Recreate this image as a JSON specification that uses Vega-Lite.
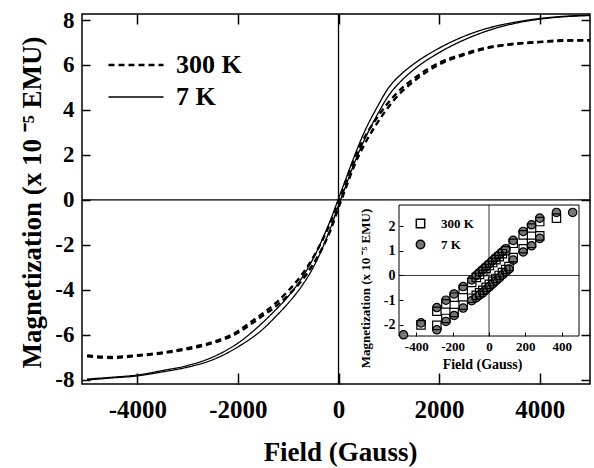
{
  "$schema": "https://vega.github.io/schema/vega-lite/v6.json",
  "width": 508,
  "height": 370,
  "autosize": {"type": "none"},
  "padding": {"left": 82, "top": 14, "right": 4, "bottom": 84},
  "background": "white",
  "config": {
    "view": {"stroke": "black", "strokeWidth": 1.5},
    "font": "Liberation Serif",
    "axis": {
      "labelFont": "Liberation Serif",
      "titleFont": "Liberation Serif",
      "labelFontWeight": "bold",
      "titleFontWeight": "bold",
      "labelColor": "black",
      "titleColor": "black",
      "tickColor": "black",
      "domainColor": "black",
      "grid": false,
      "labelFlush": false,
      "labelOverlap": false,
      "labelExpr": "'' + datum.value"
    }
  },
  "datasets": {
    "main": [
      {"T": "7 K", "b": "down", "H": -5000, "M": -7.98},
      {"T": "7 K", "b": "down", "H": -4500, "M": -7.9},
      {"T": "7 K", "b": "down", "H": -4000, "M": -7.8},
      {"T": "7 K", "b": "down", "H": -3500, "M": -7.6},
      {"T": "7 K", "b": "down", "H": -3000, "M": -7.38},
      {"T": "7 K", "b": "down", "H": -2500, "M": -7.0},
      {"T": "7 K", "b": "down", "H": -2000, "M": -6.38},
      {"T": "7 K", "b": "down", "H": -1500, "M": -5.45},
      {"T": "7 K", "b": "down", "H": -1250, "M": -4.9},
      {"T": "7 K", "b": "down", "H": -1000, "M": -4.3},
      {"T": "7 K", "b": "down", "H": -750, "M": -3.55},
      {"T": "7 K", "b": "down", "H": -500, "M": -2.6},
      {"T": "7 K", "b": "down", "H": -300, "M": -1.65},
      {"T": "7 K", "b": "down", "H": -150, "M": -0.85},
      {"T": "7 K", "b": "down", "H": 0, "M": 0.05},
      {"T": "7 K", "b": "down", "H": 150, "M": 0.95},
      {"T": "7 K", "b": "down", "H": 300, "M": 1.85},
      {"T": "7 K", "b": "down", "H": 500, "M": 2.95},
      {"T": "7 K", "b": "down", "H": 750, "M": 4.05},
      {"T": "7 K", "b": "down", "H": 1000, "M": 5.0},
      {"T": "7 K", "b": "down", "H": 1250, "M": 5.6},
      {"T": "7 K", "b": "down", "H": 1500, "M": 6.05},
      {"T": "7 K", "b": "down", "H": 2000, "M": 6.75},
      {"T": "7 K", "b": "down", "H": 2500, "M": 7.28},
      {"T": "7 K", "b": "down", "H": 3000, "M": 7.66},
      {"T": "7 K", "b": "down", "H": 3500, "M": 7.9},
      {"T": "7 K", "b": "down", "H": 4000, "M": 8.07},
      {"T": "7 K", "b": "down", "H": 4500, "M": 8.17},
      {"T": "7 K", "b": "down", "H": 5000, "M": 8.22},
      {"T": "7 K", "b": "up", "H": -5000, "M": -8.02},
      {"T": "7 K", "b": "up", "H": -4500, "M": -7.93},
      {"T": "7 K", "b": "up", "H": -4000, "M": -7.84},
      {"T": "7 K", "b": "up", "H": -3500, "M": -7.66},
      {"T": "7 K", "b": "up", "H": -3000, "M": -7.45},
      {"T": "7 K", "b": "up", "H": -2500, "M": -7.12},
      {"T": "7 K", "b": "up", "H": -2000, "M": -6.55},
      {"T": "7 K", "b": "up", "H": -1500, "M": -5.75},
      {"T": "7 K", "b": "up", "H": -1250, "M": -5.2},
      {"T": "7 K", "b": "up", "H": -1000, "M": -4.6},
      {"T": "7 K", "b": "up", "H": -750, "M": -3.9},
      {"T": "7 K", "b": "up", "H": -500, "M": -3.0},
      {"T": "7 K", "b": "up", "H": -300, "M": -2.05},
      {"T": "7 K", "b": "up", "H": -150, "M": -1.2},
      {"T": "7 K", "b": "up", "H": 0, "M": -0.25},
      {"T": "7 K", "b": "up", "H": 150, "M": 0.65},
      {"T": "7 K", "b": "up", "H": 300, "M": 1.55},
      {"T": "7 K", "b": "up", "H": 500, "M": 2.6},
      {"T": "7 K", "b": "up", "H": 750, "M": 3.7},
      {"T": "7 K", "b": "up", "H": 1000, "M": 4.65},
      {"T": "7 K", "b": "up", "H": 1250, "M": 5.3},
      {"T": "7 K", "b": "up", "H": 1500, "M": 5.8},
      {"T": "7 K", "b": "up", "H": 2000, "M": 6.55},
      {"T": "7 K", "b": "up", "H": 2500, "M": 7.12},
      {"T": "7 K", "b": "up", "H": 3000, "M": 7.55},
      {"T": "7 K", "b": "up", "H": 3500, "M": 7.85},
      {"T": "7 K", "b": "up", "H": 4000, "M": 8.04},
      {"T": "7 K", "b": "up", "H": 4500, "M": 8.15},
      {"T": "7 K", "b": "up", "H": 5000, "M": 8.2},
      {"T": "300 K", "b": "down", "H": -5000, "M": -6.93},
      {"T": "300 K", "b": "down", "H": -4500, "M": -7.0},
      {"T": "300 K", "b": "down", "H": -4000, "M": -6.92},
      {"T": "300 K", "b": "down", "H": -3500, "M": -6.8},
      {"T": "300 K", "b": "down", "H": -3000, "M": -6.6},
      {"T": "300 K", "b": "down", "H": -2500, "M": -6.33},
      {"T": "300 K", "b": "down", "H": -2000, "M": -5.85},
      {"T": "300 K", "b": "down", "H": -1750, "M": -5.45},
      {"T": "300 K", "b": "down", "H": -1500, "M": -5.05},
      {"T": "300 K", "b": "down", "H": -1250, "M": -4.6},
      {"T": "300 K", "b": "down", "H": -1000, "M": -4.05},
      {"T": "300 K", "b": "down", "H": -750, "M": -3.4},
      {"T": "300 K", "b": "down", "H": -500, "M": -2.55},
      {"T": "300 K", "b": "down", "H": -300, "M": -1.7},
      {"T": "300 K", "b": "down", "H": -150, "M": -0.95},
      {"T": "300 K", "b": "down", "H": 0, "M": -0.05},
      {"T": "300 K", "b": "down", "H": 150, "M": 0.85},
      {"T": "300 K", "b": "down", "H": 300, "M": 1.75},
      {"T": "300 K", "b": "down", "H": 500, "M": 2.7},
      {"T": "300 K", "b": "down", "H": 750, "M": 3.6},
      {"T": "300 K", "b": "down", "H": 1000, "M": 4.35},
      {"T": "300 K", "b": "down", "H": 1250, "M": 4.95},
      {"T": "300 K", "b": "down", "H": 1500, "M": 5.4},
      {"T": "300 K", "b": "down", "H": 2000, "M": 6.1},
      {"T": "300 K", "b": "down", "H": 2500, "M": 6.5},
      {"T": "300 K", "b": "down", "H": 3000, "M": 6.8},
      {"T": "300 K", "b": "down", "H": 3500, "M": 6.95},
      {"T": "300 K", "b": "down", "H": 4000, "M": 7.03},
      {"T": "300 K", "b": "down", "H": 4500, "M": 7.1},
      {"T": "300 K", "b": "down", "H": 5000, "M": 7.1},
      {"T": "300 K", "b": "up", "H": -5000, "M": -6.97},
      {"T": "300 K", "b": "up", "H": -4500, "M": -7.04},
      {"T": "300 K", "b": "up", "H": -4000, "M": -6.95},
      {"T": "300 K", "b": "up", "H": -3500, "M": -6.83},
      {"T": "300 K", "b": "up", "H": -3000, "M": -6.65},
      {"T": "300 K", "b": "up", "H": -2500, "M": -6.38},
      {"T": "300 K", "b": "up", "H": -2000, "M": -5.92},
      {"T": "300 K", "b": "up", "H": -1750, "M": -5.55},
      {"T": "300 K", "b": "up", "H": -1500, "M": -5.15},
      {"T": "300 K", "b": "up", "H": -1250, "M": -4.75},
      {"T": "300 K", "b": "up", "H": -1000, "M": -4.25},
      {"T": "300 K", "b": "up", "H": -750, "M": -3.65},
      {"T": "300 K", "b": "up", "H": -500, "M": -2.85},
      {"T": "300 K", "b": "up", "H": -300, "M": -2.05},
      {"T": "300 K", "b": "up", "H": -150, "M": -1.3},
      {"T": "300 K", "b": "up", "H": 0, "M": -0.35},
      {"T": "300 K", "b": "up", "H": 150, "M": 0.55},
      {"T": "300 K", "b": "up", "H": 300, "M": 1.45},
      {"T": "300 K", "b": "up", "H": 500, "M": 2.4},
      {"T": "300 K", "b": "up", "H": 750, "M": 3.35},
      {"T": "300 K", "b": "up", "H": 1000, "M": 4.15},
      {"T": "300 K", "b": "up", "H": 1250, "M": 4.8},
      {"T": "300 K", "b": "up", "H": 1500, "M": 5.28},
      {"T": "300 K", "b": "up", "H": 2000, "M": 6.02},
      {"T": "300 K", "b": "up", "H": 2500, "M": 6.45},
      {"T": "300 K", "b": "up", "H": 3000, "M": 6.77},
      {"T": "300 K", "b": "up", "H": 3500, "M": 6.93},
      {"T": "300 K", "b": "up", "H": 4000, "M": 7.02},
      {"T": "300 K", "b": "up", "H": 4500, "M": 7.08},
      {"T": "300 K", "b": "up", "H": 5000, "M": 7.1}
    ],
    "inset": [
      {"Temp": "7 K", "H": -287, "M": -1.3}, {"Temp": "7 K", "H": -237, "M": -1.0},
      {"Temp": "7 K", "H": -192, "M": -0.75}, {"Temp": "7 K", "H": -142, "M": -0.45},
      {"Temp": "7 K", "H": -95, "M": -0.18}, {"Temp": "7 K", "H": -70, "M": 0.0},
      {"Temp": "7 K", "H": -52, "M": 0.12}, {"Temp": "7 K", "H": -34, "M": 0.24},
      {"Temp": "7 K", "H": -16, "M": 0.36}, {"Temp": "7 K", "H": 2, "M": 0.48},
      {"Temp": "7 K", "H": 20, "M": 0.6}, {"Temp": "7 K", "H": 38, "M": 0.72},
      {"Temp": "7 K", "H": 56, "M": 0.84}, {"Temp": "7 K", "H": 74, "M": 0.96},
      {"Temp": "7 K", "H": 92, "M": 1.08}, {"Temp": "7 K", "H": 133, "M": 1.42},
      {"Temp": "7 K", "H": 188, "M": 1.78}, {"Temp": "7 K", "H": 234, "M": 2.05},
      {"Temp": "7 K", "H": 279, "M": 2.32}, {"Temp": "7 K", "H": 371, "M": 2.55},
      {"Temp": "7 K", "H": 460, "M": 2.55},
      {"Temp": "7 K", "H": -470, "M": -2.4}, {"Temp": "7 K", "H": -374, "M": -1.92},
      {"Temp": "7 K", "H": -287, "M": -2.2}, {"Temp": "7 K", "H": -237, "M": -1.86},
      {"Temp": "7 K", "H": -192, "M": -1.62}, {"Temp": "7 K", "H": -142, "M": -1.32},
      {"Temp": "7 K", "H": -95, "M": -1.02}, {"Temp": "7 K", "H": -70, "M": -0.9},
      {"Temp": "7 K", "H": -52, "M": -0.8}, {"Temp": "7 K", "H": -34, "M": -0.7},
      {"Temp": "7 K", "H": -16, "M": -0.58}, {"Temp": "7 K", "H": 2, "M": -0.46},
      {"Temp": "7 K", "H": 20, "M": -0.34}, {"Temp": "7 K", "H": 38, "M": -0.22},
      {"Temp": "7 K", "H": 56, "M": -0.1}, {"Temp": "7 K", "H": 74, "M": 0.02},
      {"Temp": "7 K", "H": 92, "M": 0.14}, {"Temp": "7 K", "H": 110, "M": 0.26},
      {"Temp": "7 K", "H": 133, "M": 0.62}, {"Temp": "7 K", "H": 188, "M": 0.95},
      {"Temp": "7 K", "H": 234, "M": 1.2}, {"Temp": "7 K", "H": 279, "M": 1.5},
      {"Temp": "300 K", "H": -287, "M": -1.45}, {"Temp": "300 K", "H": -237, "M": -1.15},
      {"Temp": "300 K", "H": -192, "M": -0.88}, {"Temp": "300 K", "H": -142, "M": -0.57},
      {"Temp": "300 K", "H": -95, "M": -0.28}, {"Temp": "300 K", "H": -70, "M": -0.08},
      {"Temp": "300 K", "H": -52, "M": 0.04}, {"Temp": "300 K", "H": -34, "M": 0.16},
      {"Temp": "300 K", "H": -16, "M": 0.28}, {"Temp": "300 K", "H": 2, "M": 0.4},
      {"Temp": "300 K", "H": 20, "M": 0.52}, {"Temp": "300 K", "H": 38, "M": 0.64},
      {"Temp": "300 K", "H": 56, "M": 0.76}, {"Temp": "300 K", "H": 74, "M": 0.88},
      {"Temp": "300 K", "H": 92, "M": 1.0}, {"Temp": "300 K", "H": 133, "M": 1.3},
      {"Temp": "300 K", "H": 188, "M": 1.64}, {"Temp": "300 K", "H": 234, "M": 1.92},
      {"Temp": "300 K", "H": 279, "M": 2.18}, {"Temp": "300 K", "H": 371, "M": 2.32},
      {"Temp": "300 K", "H": -374, "M": -2.0}, {"Temp": "300 K", "H": -287, "M": -2.02},
      {"Temp": "300 K", "H": -237, "M": -1.74}, {"Temp": "300 K", "H": -192, "M": -1.5},
      {"Temp": "300 K", "H": -142, "M": -1.2}, {"Temp": "300 K", "H": -95, "M": -0.92},
      {"Temp": "300 K", "H": -70, "M": -0.8}, {"Temp": "300 K", "H": -52, "M": -0.7},
      {"Temp": "300 K", "H": -34, "M": -0.6}, {"Temp": "300 K", "H": -16, "M": -0.48},
      {"Temp": "300 K", "H": 2, "M": -0.36}, {"Temp": "300 K", "H": 20, "M": -0.24},
      {"Temp": "300 K", "H": 38, "M": -0.12}, {"Temp": "300 K", "H": 56, "M": 0.0},
      {"Temp": "300 K", "H": 74, "M": 0.12}, {"Temp": "300 K", "H": 92, "M": 0.24},
      {"Temp": "300 K", "H": 110, "M": 0.36}, {"Temp": "300 K", "H": 133, "M": 0.72},
      {"Temp": "300 K", "H": 188, "M": 1.08}, {"Temp": "300 K", "H": 234, "M": 1.3},
      {"Temp": "300 K", "H": 279, "M": 1.6}
    ],
    "zero": [{"H": 0, "M": 0}]
  },
  "layer": [
    {
      "data": {"name": "main"},
      "mark": {"type": "line", "interpolate": "monotone", "color": "black"},
      "encoding": {
        "x": {
          "field": "H", "type": "quantitative",
          "scale": {"domain": [-5100, 5000], "nice": false, "zero": false},
          "axis": {
            "orient": "bottom", "values": [-4000, -2000, 0, 2000, 4000],
            "tickSize": -11, "tickWidth": 1.5, "labelFontSize": 25, "labelPadding": 24,
            "domain": false, "title": "Field (Gauss)", "titleFontSize": 27,
            "titleX": 258, "titleY": 68, "titleAlign": "center", "titleBaseline": "middle"
          }
        },
        "y": {
          "field": "M", "type": "quantitative",
          "scale": {"domain": [-8.2, 8.27], "nice": false, "zero": false},
          "axis": {
            "orient": "left", "values": [-8, -6, -4, -2, 0, 2, 4, 6, 8],
            "tickSize": -8, "tickWidth": 1.5, "labelFontSize": 23, "labelPadding": 16,
            "domain": false, "title": "Magnetization (x 10 ⁻⁵ EMU)", "titleFontSize": 27,
            "titleX": -50, "titleY": 188, "titleAngle": 270, "titleAlign": "center", "titleBaseline": "middle"
          }
        },
        "strokeDash": {
          "field": "T", "type": "nominal",
          "scale": {"range": [[6, 4], [1, 0]]},
          "legend": {
            "orient": "none", "legendX": 25, "legendY": 38, "title": null,
            "symbolType": "stroke", "symbolSize": 3025, "symbolStrokeWidth": 2,
            "symbolStrokeColor": "black", "labelFontSize": 26, "labelFont": "Liberation Serif",
            "labelFontWeight": "bold", "labelColor": "black", "labelOffset": 11,
            "clipHeight": 26, "rowPadding": 6
          }
        },
        "strokeWidth": {
          "field": "T", "type": "ordinal",
          "scale": {"range": [2.4, 1.3]},
          "legend": null
        },
        "detail": {"field": "b"}
      }
    },
    {
      "data": {"name": "zero"},
      "layer": [
        {
          "mark": {"type": "rule", "color": "black", "strokeWidth": 1.3},
          "encoding": {
            "x": {
              "field": "H", "type": "quantitative",
              "scale": {"domain": [-5100, 5000], "nice": false, "zero": false},
              "axis": {"orient": "top", "values": [-4000, -2000, 0, 2000, 4000], "tickSize": -10, "tickWidth": 1.5, "labels": false, "domain": false, "title": null}
            }
          }
        },
        {
          "mark": {"type": "rule", "color": "black", "strokeWidth": 1.3},
          "encoding": {
            "y": {
              "field": "M", "type": "quantitative",
              "scale": {"domain": [-8.2, 8.27], "nice": false, "zero": false},
              "axis": {"orient": "right", "values": [-8, -6, -4, -2, 0, 2, 4, 6, 8], "tickSize": -9, "tickWidth": 1.5, "labels": false, "domain": false, "title": null}
            }
          }
        }
      ]
    },
    {
      "layer": [
        {
          "data": {"values": [{}]},
          "mark": {"type": "rect", "fill": "white", "stroke": "black", "strokeWidth": 1},
          "encoding": {
            "x": {"datum": -495, "type": "quantitative"},
            "x2": {"datum": 495},
            "y": {"datum": -2.45, "type": "quantitative"},
            "y2": {"datum": 2.85}
          }
        },
        {
          "data": {"values": [{}]},
          "mark": {"type": "rule", "color": "black", "strokeWidth": 0.8},
          "encoding": {
            "x": {"datum": 0, "type": "quantitative"},
            "y": {"datum": -2.45, "type": "quantitative"},
            "y2": {"datum": 2.85}
          }
        },
        {
          "data": {"values": [{}]},
          "mark": {"type": "rule", "color": "black", "strokeWidth": 0.8},
          "encoding": {
            "y": {"datum": 0, "type": "quantitative"},
            "x": {"datum": -495, "type": "quantitative"},
            "x2": {"datum": 495}
          }
        },
        {
          "data": {"name": "inset"},
          "mark": {"type": "point", "filled": true, "stroke": "black", "strokeWidth": 1.2, "size": 70, "opacity": 1},
          "encoding": {
            "x": {
              "field": "H", "type": "quantitative",
              "scale": {"domain": [-495, 495], "range": [317, 497], "nice": false, "zero": false},
              "axis": {
                "orient": "bottom", "offset": -48, "zindex": 1, "values": [-400, -200, 0, 200, 400],
                "tickSize": -4, "labelFontSize": 13, "labelPadding": 8, "domain": false,
                "title": "Field (Gauss)", "titleFontSize": 14, "titleX": 400, "titleY": 28,
                "titleAlign": "center", "titleBaseline": "middle"
              }
            },
            "y": {
              "field": "M", "type": "quantitative",
              "scale": {"domain": [-2.45, 2.85], "range": [322, 191], "nice": false, "zero": false},
              "axis": {
                "orient": "left", "offset": -317, "zindex": 1, "values": [-2, -1, 0, 1, 2],
                "tickSize": -4, "labelFontSize": 14, "labelPadding": 8, "domain": false,
                "title": "Magnetization (x 10 ⁻⁵ EMU)", "titleFontSize": 13, "titleX": -34, "titleY": 274,
                "titleAngle": 270, "titleAlign": "center", "titleBaseline": "middle"
              }
            },
            "shape": {
              "field": "Temp", "type": "nominal",
              "scale": {"range": ["square", "circle"]},
              "legend": {
                "orient": "none", "legendX": 332, "legendY": 203, "title": null,
                "labelFontSize": 13, "labelFont": "Liberation Serif", "labelFontWeight": "bold",
                "labelColor": "black", "symbolSize": 70, "labelOffset": 14, "rowPadding": 6,
                "encode": {"symbols": {"update": {"stroke": {"value": "black"}, "strokeWidth": {"value": 1.2}}}}
              }
            },
            "fill": {
              "field": "Temp", "type": "nominal",
              "scale": {"range": ["transparent", "#777777"]},
              "legend": {
                "orient": "none", "legendX": 332, "legendY": 203, "title": null,
                "labelFontSize": 13, "labelFont": "Liberation Serif", "labelFontWeight": "bold",
                "labelColor": "black", "symbolSize": 70, "labelOffset": 14, "rowPadding": 6,
                "encode": {"symbols": {"update": {"stroke": {"value": "black"}, "strokeWidth": {"value": 1.2}}}}
              }
            }
          }
        }
      ]
    }
  ],
  "resolve": {"scale": {"x": "independent", "y": "independent"}}
}
